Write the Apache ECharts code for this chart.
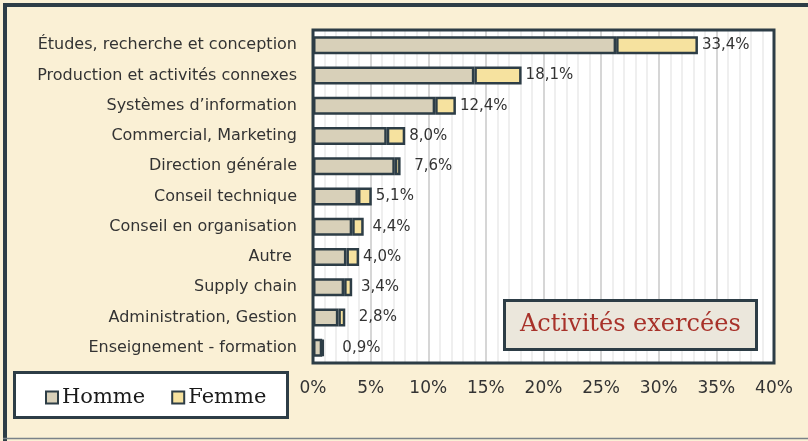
<!DOCTYPE html>
<html>
<head>
<meta charset="utf-8">
<script src="https://cdn.jsdelivr.net/npm/echarts@6/dist/echarts.min.js"></script>
<style>
html,body{margin:0;padding:0;background:#faf0d5;}
#chart{width:808px;height:441px;}
</style>
</head>
<body>
<div id="chart"></div>
<script>
var categories = [
  "Études, recherche et conception",
  "Production et activités connexes",
  "Systèmes d’information",
  "Commercial, Marketing",
  "Direction générale",
  "Conseil technique",
  "Conseil en organisation",
  "Autre ",
  "Supply chain",
  "Administration, Gestion",
  "Enseignement - formation"
];
var homme = [26.3, 14.0, 10.6, 6.4, 7.1, 3.9, 3.4, 2.9, 2.7, 2.2, 0.8];
var femme = [7.1, 4.1, 1.8, 1.6, 0.5, 1.2, 1.0, 1.1, 0.7, 0.6, 0.1];
var totalLabels = ["33,4%", "18,1%", "12,4%", "8,0%", "  7,6%", "5,1%", " 4,4%", "4,0%", " 3,4%", "  2,8%", "   0,9%"];
var xTicks = [0, 5, 10, 15, 20, 25, 30, 35, 40];
var seriesNames = ["Homme", "Femme"];
var titleText = "Activités exercées";

var dark = '#2d3d46';
var chart = echarts.init(document.getElementById('chart'));
chart.setOption({
  backgroundColor: '#faf0d5',
  animation: false,
  graphic: [
    { type: 'line', shape: { x1: 5, y1: 3, x2: 5, y2: 441 }, style: { stroke: dark, lineWidth: 4 } },
    { type: 'line', shape: { x1: 3, y1: 5, x2: 808, y2: 5 }, style: { stroke: dark, lineWidth: 4 } },
    { type: 'line', shape: { x1: 3, y1: 438.5, x2: 808, y2: 438.5 }, style: { stroke: '#7a8289', lineWidth: 1.5 } },
    { type: 'rect', shape: { x: 14.5, y: 372.5, width: 273, height: 45 }, style: { fill: '#ffffff', stroke: dark, lineWidth: 3 }, z: 10 },
    { type: 'rect', shape: { x: 313, y: 30, width: 461, height: 333 }, style: { fill: 'none', stroke: dark, lineWidth: 3 }, z: 5, silent: true }
  ],
  title: {
    text: titleText,
    left: 504, top: 300,
    padding: [13, 16, 13, 16],
    backgroundColor: '#ebe7dc',
    borderColor: dark,
    borderWidth: 3,
    textStyle: { fontFamily: 'DejaVu Serif', fontSize: 24, fontWeight: 'normal', color: '#a8322a' },
    z: 20
  },
  legend: {
    data: seriesNames,
    icon: 'rect',
    left: 40, top: 382,
    itemWidth: 12, itemHeight: 12,
    itemGap: 26,
    z: 20,
    textStyle: { fontFamily: 'DejaVu Serif', fontSize: 21, color: '#1a1a1a', padding: [0, 0, 0, -1] }
  },
  grid: {
    left: 313, right: 34, top: 30, bottom: 78,
    show: true, backgroundColor: '#ffffff', borderColor: dark, borderWidth: 0
  },
  xAxis: {
    type: 'value', min: xTicks[0], max: xTicks[xTicks.length - 1], interval: 5,
    axisLine: { show: false }, axisTick: { show: false },
    axisLabel: { formatter: '{value}%', fontFamily: 'DejaVu Sans', fontSize: 17, color: '#333', margin: 17 },
    splitLine: { show: true, lineStyle: { color: '#d6d6d6', width: 2 } },
    minorTick: { show: false, splitNumber: 5 },
    minorSplitLine: { show: true, lineStyle: { color: '#efefef', width: 2 } }
  },
  yAxis: {
    type: 'category', data: categories, inverse: true,
    axisLine: { show: false }, axisTick: { show: false },
    axisLabel: { fontFamily: 'DejaVu Sans', fontSize: 16, color: '#333', margin: 16 }
  },
  series: [
    {
      name: seriesNames[0], type: 'bar', stack: 't', data: homme, barWidth: 18,
      itemStyle: { color: '#d8d0b9', borderColor: dark, borderWidth: 2.5 }
    },
    {
      name: seriesNames[1], type: 'bar', stack: 't', data: femme, barWidth: 18,
      itemStyle: { color: '#f6e29f', borderColor: dark, borderWidth: 2.5 },
      label: {
        show: true, position: 'right', distance: 4,
        fontFamily: 'DejaVu Sans', fontSize: 15, color: '#333',
        formatter: function (p) { return totalLabels[p.dataIndex]; }
      }
    }
  ]
});
</script>
</body>
</html>
